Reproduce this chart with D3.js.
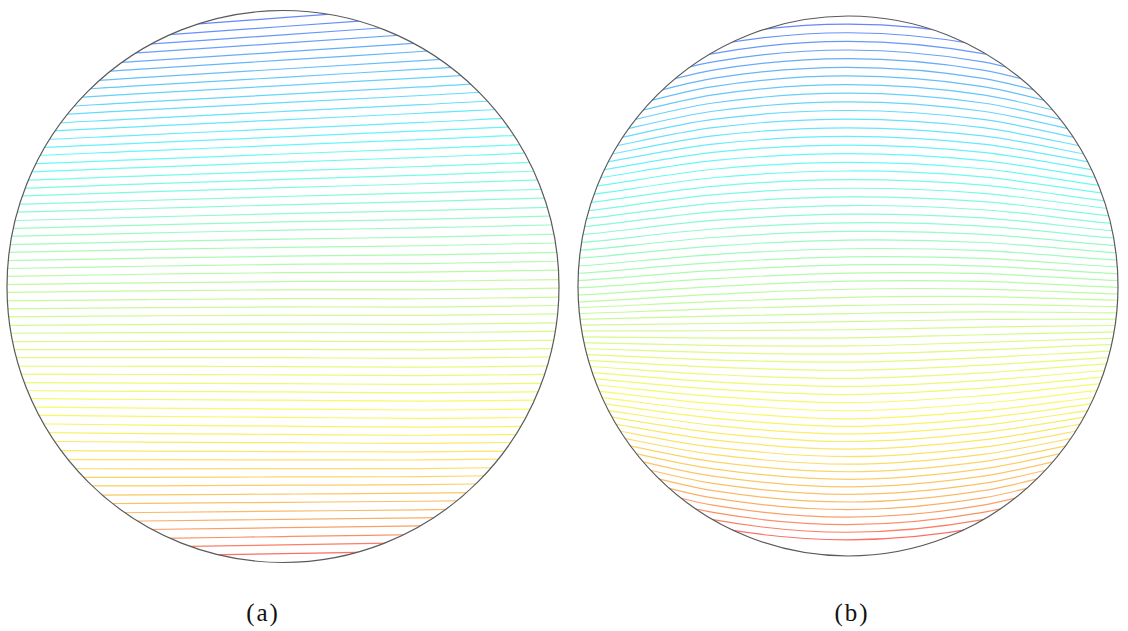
<!DOCTYPE html>
<html>
<head>
<meta charset="utf-8">
<script src="https://cdn.jsdelivr.net/npm/d3@7/dist/d3.min.js"></script>
<style>
  html, body { margin: 0; padding: 0; background: #ffffff; }
  svg { display: block; }
</style>
</head>
<body>
<svg id="chart" width="1128" height="631"></svg>
<script>
// ---------------- DATA ----------------
// Panel labels
const panelLabels = ["(a)", "(b)"];

// Depth (percent of diameter, from top) where each contour crosses the vertical centre line
const levelsA = [1.3, 2.9, 4.4, 5.9, 7.5, 9.0, 10.6, 12.1, 13.6, 15.2, 16.7, 18.3, 19.8, 21.4, 22.9, 24.4,
  26.0, 27.5, 29.1, 30.6, 32.1, 33.7, 35.2, 36.8, 38.3, 39.8, 41.4, 42.9, 44.5, 46.0, 47.5, 49.1,
  50.6, 52.2, 53.7, 55.2, 56.8, 58.3, 59.9, 61.4, 62.9, 64.5, 66.0, 67.6, 69.1, 70.6, 72.2, 73.7,
  75.3, 76.8, 78.3, 79.9, 81.4, 83.0, 84.5, 86.0, 87.6, 89.1, 90.7, 92.2, 93.7, 95.3, 96.8, 98.4];

const levelsB = [1.5, 3.1, 4.7, 6.3, 7.9, 9.5, 11.1, 12.7, 14.3, 15.9, 17.5, 19.1, 20.7, 22.3, 23.9, 25.5,
  27.1, 28.7, 30.3, 31.9, 33.5, 35.1, 36.7, 38.3, 39.9, 41.5, 43.1, 44.6, 46.1, 47.6, 49.1, 50.6,
  52.1, 53.6, 55.1, 56.6, 58.1, 59.6, 61.1, 62.6, 64.1, 65.6, 67.1, 68.6, 70.1, 71.6, 73.1, 74.6,
  76.0, 77.4, 78.8, 80.2, 81.6, 83.0, 84.4, 85.8, 87.2, 88.6, 90.0, 91.4, 92.8, 94.2, 95.6, 97.0];

// Horizontal stations (fraction of radius from centre) and depth bands (percent of diameter)
const stationsU = [-1, -0.5, 0, 0.5, 1];
const bandDepths = [0, 25, 50, 75, 100];

// Vertical displacement of the contours (percent of diameter) at each station, per depth band
const shapeA = [
  [3.8, 1.9, 0, -1.9, -3.8],
  [2.0, 1.0, 0, -1.0, -2.0],
  [0.5, 0.2, 0, 0.0, -0.3],
  [-0.5, -0.2, 0, 0.2, 0.0],
  [1.0, 0.5, 0, -0.5, -1.0]
];
const shapeB = [
  [10.0, 2.5, 0, 2.5, 10.0],
  [5.0, 1.3, 0, 1.3, 5.0],
  [2.5, 1.0, 0, 0.0, 1.0],
  [-4.5, -1.5, 0, -1.5, -4.5],
  [-10.0, -2.5, 0, -2.5, -10.0]
];

// ---------------- DRAWING ----------------
const svg = d3.select("#chart");
svg.append("rect").attr("width", 1128).attr("height", 631).attr("fill", "#ffffff");

function jet(t) {
  const c = v => Math.max(0, Math.min(1, v));
  const r = c(1.5 - Math.abs(4 * t - 3));
  const g = c(1.5 - Math.abs(4 * t - 2));
  const b = c(1.5 - Math.abs(4 * t - 1));
  return d3.rgb(r * 255, g * 255, b * 255);
}

const panels = [
  { id: "A", cx: 283, cy: 286.5, r: 276, levels: levelsA, shape: shapeA, label: panelLabels[0], lx: 263 },
  { id: "B", cx: 848, cy: 286, r: 270, levels: levelsB, shape: shapeB, label: panelLabels[1], lx: 852 }
];

const defs = svg.append("defs");

panels.forEach(p => {
  const x = d3.scaleLinear().domain([-1, 1]).range([p.cx - p.r, p.cx + p.r]);
  const y = d3.scaleLinear().domain([0, 100]).range([p.cy - p.r, p.cy + p.r]);

  // one interpolating scale per station, mapping depth -> displacement
  const stationScales = stationsU.map((u, j) =>
    d3.scaleLinear().domain(bandDepths).range(p.shape.map(row => row[j])).clamp(true));

  const n = p.levels.length - 1;
  const colorT = d3.scaleLinear()
    .domain([0, 0.12 * n, 0.5 * n, 0.82 * n, 0.93 * n, n])
    .range([0.18, 0.3, 0.53, 0.66, 0.74, 0.86]);
  const color = i => d3.interpolateRgb(jet(colorT(i)), "#f2f2f2")(0.42);

  defs.append("clipPath").attr("id", "clip" + p.id)
    .append("circle").attr("cx", p.cx).attr("cy", p.cy).attr("r", p.r);

  const g = svg.append("g").attr("clip-path", `url(#clip${p.id})`);

  const line = d3.line()
    .x(d => x(d[0]))
    .y(d => y(d[1]))
    .curve(d3.curveCatmullRom.alpha(0.5));

  p.levels.forEach((lv, i) => {
    const pts = stationsU.map((u, j) => [u, lv + stationScales[j](lv)]);
    const ext = [[-1.08, pts[0][1]], ...pts, [1.08, pts[pts.length - 1][1]]];
    g.append("path")
      .attr("d", line(ext))
      .attr("fill", "none")
      .attr("stroke", color(i))
      .attr("stroke-width", 1.2);
  });

  svg.append("circle")
    .attr("cx", p.cx).attr("cy", p.cy).attr("r", p.r)
    .attr("fill", "none").attr("stroke", "#5a5a5a").attr("stroke-width", 1.2);

  svg.append("text")
    .attr("x", p.lx).attr("y", 621)
    .attr("text-anchor", "middle")
    .attr("font-family", "'Liberation Serif', 'DejaVu Serif', serif")
    .attr("font-size", 25)
    .attr("letter-spacing", 2)
    .attr("fill", "#111")
    .text(p.label);
});
</script>
</body>
</html>
